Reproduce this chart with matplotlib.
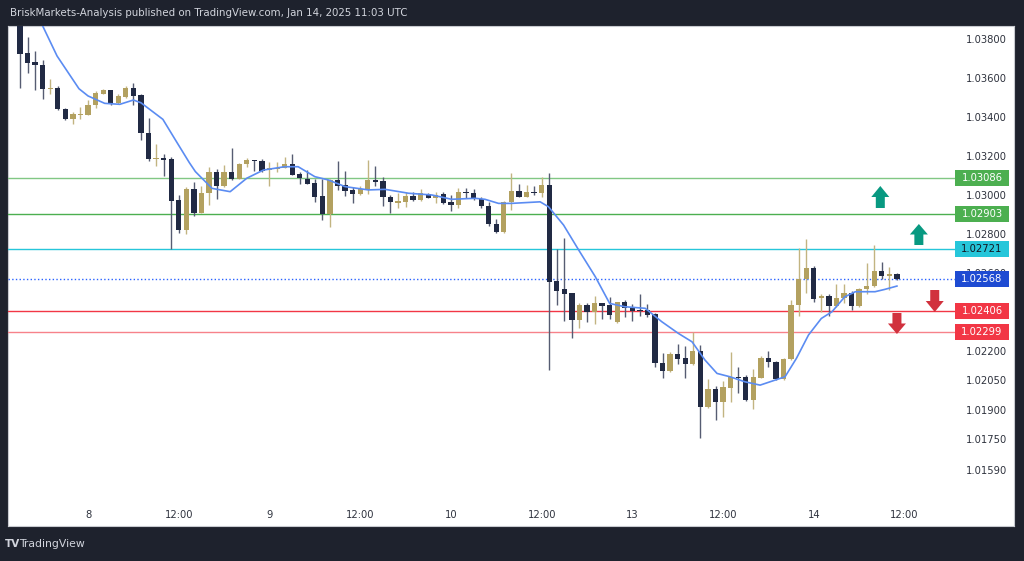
import matplotlib
matplotlib.use("Agg")
import matplotlib.pyplot as plt
from matplotlib.patches import Rectangle, Polygon

# hourly EURUSD candles, Jan 7 15:00 -> Jan 14 11:00 UTC (weekend skipped)
opens = [1.03900, 1.03730, 1.03684, 1.03667, 1.03542, 1.03549, 1.03440, 1.03391, 1.03410, 1.03410,
         1.03460, 1.03519, 1.03538, 1.03470, 1.03504, 1.03549, 1.03513, 1.03319, 1.03183, 1.03190,
         1.03186, 1.02974, 1.02821, 1.03029, 1.02909, 1.03009, 1.03120, 1.03048, 1.03120, 1.03082,
         1.03157, 1.03180, 1.03176, 1.03128, 1.03132, 1.03140, 1.03159, 1.03106, 1.03082, 1.03060,
         1.02995, 1.02903, 1.03077, 1.03051, 1.03026, 1.03004, 1.03026, 1.03077, 1.03072, 1.02991,
         1.02961, 1.02963, 1.02995, 1.02974, 1.03005, 1.02983, 1.03004, 1.02963, 1.02949, 1.03014,
         1.03009, 1.02980, 1.02945, 1.02851, 1.02809, 1.02963, 1.03021, 1.02991, 1.03014, 1.03009,
         1.03051, 1.02559, 1.02516, 1.02496, 1.02359, 1.02436, 1.02399, 1.02445, 1.02436, 1.02347,
         1.02450, 1.02424, 1.02410, 1.02410, 1.02390, 1.02140, 1.02097, 1.02183, 1.02163, 1.02133,
         1.02202, 1.01911, 1.02004, 1.01940, 1.02009, 1.02068, 1.02068, 1.01949, 1.02063, 1.02166,
         1.02145, 1.02055, 1.02157, 1.02436, 1.02568, 1.02627, 1.02470, 1.02482, 1.02431, 1.02473,
         1.02496, 1.02431, 1.02518, 1.02533, 1.02610, 1.02586, 1.02595]
highs = [1.03920, 1.03810, 1.03738, 1.03692, 1.03596, 1.03559, 1.03445, 1.03426, 1.03451, 1.03487,
         1.03532, 1.03545, 1.03541, 1.03516, 1.03559, 1.03574, 1.03518, 1.03395, 1.03260, 1.03212,
         1.03195, 1.02998, 1.03041, 1.03068, 1.03048, 1.03145, 1.03132, 1.03154, 1.03240, 1.03163,
         1.03188, 1.03182, 1.03183, 1.03168, 1.03171, 1.03196, 1.03209, 1.03120, 1.03128, 1.03081,
         1.03081, 1.03081, 1.03176, 1.03123, 1.03043, 1.03048, 1.03180, 1.03149, 1.03091, 1.03000,
         1.03009, 1.03014, 1.03014, 1.03029, 1.03009, 1.03017, 1.03014, 1.03000, 1.03037, 1.03034,
         1.03029, 1.02988, 1.02966, 1.02875, 1.02969, 1.03114, 1.03056, 1.03051, 1.03046, 1.03091,
         1.03111, 1.02723, 1.02781, 1.02499, 1.02448, 1.02448, 1.02482, 1.02448, 1.02478, 1.02451,
         1.02462, 1.02440, 1.02491, 1.02440, 1.02395, 1.02188, 1.02193, 1.02236, 1.02226, 1.02299,
         1.02231, 1.02056, 1.02021, 1.02048, 1.02196, 1.02120, 1.02077, 1.02106, 1.02174, 1.02202,
         1.02149, 1.02162, 1.02462, 1.02727, 1.02773, 1.02636, 1.02491, 1.02491, 1.02544, 1.02544,
         1.02508, 1.02522, 1.02653, 1.02744, 1.02658, 1.02629, 1.02600]
lows = [1.03550, 1.03627, 1.03537, 1.03491, 1.03520, 1.03434, 1.03387, 1.03366, 1.03391, 1.03409,
        1.03448, 1.03516, 1.03462, 1.03465, 1.03496, 1.03462, 1.03282, 1.03176, 1.03149, 1.03097,
        1.02725, 1.02804, 1.02798, 1.02892, 1.02908, 1.02949, 1.02978, 1.03043, 1.03077, 1.03081,
        1.03145, 1.03123, 1.03120, 1.03046, 1.03120, 1.03137, 1.03101, 1.03055, 1.03055, 1.02966,
        1.02872, 1.02834, 1.03026, 1.02995, 1.02957, 1.03000, 1.03004, 1.03046, 1.02944, 1.02909,
        1.02935, 1.02940, 1.02971, 1.02971, 1.02983, 1.02957, 1.02952, 1.02920, 1.02935, 1.02986,
        1.02974, 1.02935, 1.02843, 1.02804, 1.02805, 1.02923, 1.02990, 1.02990, 1.03000, 1.02991,
        1.02103, 1.02436, 1.02354, 1.02268, 1.02320, 1.02350, 1.02337, 1.02364, 1.02364, 1.02345,
        1.02376, 1.02355, 1.02381, 1.02376, 1.02116, 1.02060, 1.02091, 1.02133, 1.02060, 1.02128,
        1.01752, 1.01906, 1.01846, 1.01860, 1.01940, 1.01986, 1.01945, 1.01903, 1.02060, 1.02120,
        1.02051, 1.02051, 1.02154, 1.02381, 1.02496, 1.02450, 1.02402, 1.02380, 1.02427, 1.02445,
        1.02410, 1.02427, 1.02491, 1.02527, 1.02568, 1.02513, 1.02565]
closes = [1.03725, 1.03678, 1.03667, 1.03542, 1.03549, 1.03440, 1.03391, 1.03414, 1.03417, 1.03462,
          1.03523, 1.03538, 1.03468, 1.03508, 1.03549, 1.03509, 1.03316, 1.03183, 1.03190, 1.03181,
          1.02969, 1.02821, 1.03033, 1.02909, 1.03009, 1.03120, 1.03048, 1.03120, 1.03082, 1.03159,
          1.03180, 1.03174, 1.03123, 1.03140, 1.03140, 1.03159, 1.03103, 1.03086, 1.03056, 1.02991,
          1.02903, 1.03077, 1.03048, 1.03022, 1.03004, 1.03029, 1.03077, 1.03068, 1.02991, 1.02963,
          1.02969, 1.02995, 1.02974, 1.03009, 1.02986, 1.03000, 1.02957, 1.02949, 1.03017, 1.03009,
          1.02980, 1.02944, 1.02851, 1.02809, 1.02966, 1.03021, 1.02991, 1.03014, 1.03009, 1.03051,
          1.02555, 1.02509, 1.02491, 1.02359, 1.02436, 1.02402, 1.02445, 1.02432, 1.02385, 1.02450,
          1.02419, 1.02407, 1.02405, 1.02385, 1.02140, 1.02097, 1.02183, 1.02159, 1.02133, 1.02202,
          1.01911, 1.02004, 1.01940, 1.02014, 1.02068, 1.02063, 1.01949, 1.02068, 1.02166, 1.02145,
          1.02055, 1.02157, 1.02436, 1.02568, 1.02627, 1.02465, 1.02482, 1.02431, 1.02473, 1.02496,
          1.02431, 1.02518, 1.02533, 1.02610, 1.02586, 1.02595, 1.02568]

# moving average (bar index, value)
ma_x = [3.0, 4.9, 7.8, 9.0, 11.2, 13.2, 15.0, 16.0, 18.9, 20.5, 22.4, 23.2, 25.4, 27.8, 30.0,
        32.2, 35.0, 36.8, 39.0, 40.8, 43.0, 46.1, 48.3, 51.4, 54.5, 57.1, 60.2, 61.5, 63.3, 65.0,
        68.8, 69.9, 71.9, 73.9, 76.1, 78.0, 80.0, 82.7, 84.9, 87.1, 88.9, 90.6, 92.2, 93.9, 95.9,
        97.9, 99.9, 101.2, 102.7, 104.3, 106.0, 107.4, 109.1, 110.5, 113.1, 114.4, 116.0]
ma_y = [1.03867, 1.03713, 1.03545, 1.03508, 1.03470, 1.03465, 1.03487, 1.03473, 1.03388, 1.03286,
        1.03166, 1.03120, 1.03034, 1.03017, 1.03086, 1.03128, 1.03145, 1.03145, 1.03094, 1.03077,
        1.03043, 1.03026, 1.03029, 1.03009, 1.03000, 1.02978, 1.02983, 1.02978, 1.02957, 1.02957,
        1.02965, 1.02940, 1.02846, 1.02718, 1.02581, 1.02444, 1.02427, 1.02419, 1.02350, 1.02290,
        1.02247, 1.02154, 1.02085, 1.02068, 1.02042, 1.02025, 1.02051, 1.02068, 1.02162, 1.02282,
        1.02367, 1.02401, 1.02478, 1.02504, 1.02504, 1.02516, 1.02533]

# drawn levels: price, line colour, box colour, text colour, style
levels = [1.03086, 1.02903, 1.02721, 1.02568, 1.02406, 1.02299]
level_line = ['#81c784', '#4caf50', '#26c6da', '#2962ff', '#f23645', '#f7828a']
level_box = ['#4caf50', '#4caf50', '#26c6da', '#1e4bd2', '#f23645', '#f23645']
level_txt = ['white', 'white', '#131722', 'white', 'white', 'white']
level_ls = ['-', '-', '-', ':', '-', '-']

yticks = [1.038, 1.036, 1.034, 1.032, 1.030, 1.028, 1.026, 1.022, 1.0205, 1.019, 1.0175, 1.0159]
ytick_labels = ['1.03800', '1.03600', '1.03400', '1.03200', '1.03000', '1.02800', '1.02600',
                '1.02200', '1.02050', '1.01900', '1.01750', '1.01590']
xticks = [9, 21, 33, 45, 57, 69, 81, 93, 105, 117]
xtick_labels = ['8', '12:00', '9', '12:00', '10', '12:00', '13', '12:00', '14', '12:00']

# arrows: bar position, top, bottom, direction, colour
arrows = [(113.8, 1.030462, 1.029333, 'up', '#089981'),
          (118.9, 1.028513, 1.027436, 'up', '#089981'),
          (121.0, 1.025128, 1.024000, 'down', '#d1313d'),
          (116.0, 1.023949, 1.022872, 'down', '#d1313d')]

W, H = 1024, 561
bull, bear = '#b3a160', '#212a44'
bull_wick, bear_wick = '#c2b481', '#565c72'

fig = plt.figure(figsize=(W / 100, H / 100), dpi=100)
fig.patch.set_facecolor('#1e222d')

# white chart panel (price scale included)
panel = fig.add_axes([8 / W, 1 - 526 / H, 1006 / W, 500 / H])
panel.set_facecolor('white')
panel.set_xticks([])
panel.set_yticks([])
for s in panel.spines.values():
    s.set_color('#c8cad0')
    s.set_linewidth(0.8)
panel.set_zorder(0)

ax = fig.add_axes([8 / W, 1 - 498 / H, 947 / W, 472 / H])
ax.set_zorder(1)
ax.patch.set_alpha(0)
ax.set_xlim(-1.587, 123.68)
ax.set_ylim(1.038 - (498 - 39) / 19500, 1.038 + 13 / 19500)

pxy = 1 / 19500
for i in range(len(opens)):
    o, h, l, c = opens[i], highs[i], lows[i], closes[i]
    up = c >= o
    ax.vlines(i, l, h, color=bull_wick if up else bear_wick, lw=1.0, zorder=3)
    bot = min(o, c)
    hgt = max(abs(c - o), 1.2 * pxy)
    ax.bar(i, hgt, bottom=bot, width=0.7, color=bull if up else bear, zorder=4, lw=0)

ax.plot(ma_x, ma_y, color='#5b8cf2', lw=1.2, zorder=5)

bt = ax.get_yaxis_transform()
for p, lc, bc, tc, ls in zip(levels, level_line, level_box, level_txt, level_ls):
    ax.plot([0, 1], [p, p], transform=bt, color=lc, lw=1.0, ls=ls, zorder=2)
    ax.add_patch(Rectangle((1.0, p - 8 * pxy), 54 / 947, 16 * pxy, transform=bt, facecolor=bc,
                           edgecolor='none', clip_on=False, zorder=6))
    ax.text(1.0 + 27 / 947, p, f'{p:.5f}', transform=bt, ha='center', va='center',
            color=tc, fontsize=7.2, zorder=7, clip_on=False)

hw, sw = 9 / 7.56, 4.5 / 7.56
for xc, top, bottom, d, col in arrows:
    mid = (top + bottom) / 2
    if d == 'up':
        pts = [(xc, top), (xc + hw, mid), (xc + sw, mid), (xc + sw, bottom),
               (xc - sw, bottom), (xc - sw, mid), (xc - hw, mid)]
    else:
        pts = [(xc, bottom), (xc + hw, mid), (xc + sw, mid), (xc + sw, top),
               (xc - sw, top), (xc - sw, mid), (xc - hw, mid)]
    ax.add_patch(Polygon(pts, closed=True, facecolor=col, edgecolor='none', zorder=6,
                         clip_on=False))

ax.yaxis.tick_right()
ax.set_yticks(yticks)
ax.set_yticklabels(ytick_labels)
ax.set_xticks(xticks)
ax.set_xticklabels(xtick_labels)
ax.tick_params(axis='y', length=0, pad=8, labelsize=7.2, labelcolor='#2f333e')
ax.tick_params(axis='x', length=0, pad=9, labelsize=7.2, labelcolor='#2f333e')
for s in ax.spines.values():
    s.set_visible(False)

fig.text(10 / W, 1 - 13 / H, 'BriskMarkets-Analysis published on TradingView.com, Jan 14, 2025 11:03 UTC',
         color='#d1d4dc', fontsize=7.4, ha='left', va='center')
fig.text(5 / W, 1 - 544 / H, 'TV', color='#d1d4dc', fontsize=7.5, fontweight='bold',
         ha='left', va='center')
fig.text(19 / W, 1 - 544 / H, 'TradingView', color='#d1d4dc', fontsize=7.8,
         ha='left', va='center')

fig.savefig('out.png', dpi=100, facecolor=fig.get_facecolor())
